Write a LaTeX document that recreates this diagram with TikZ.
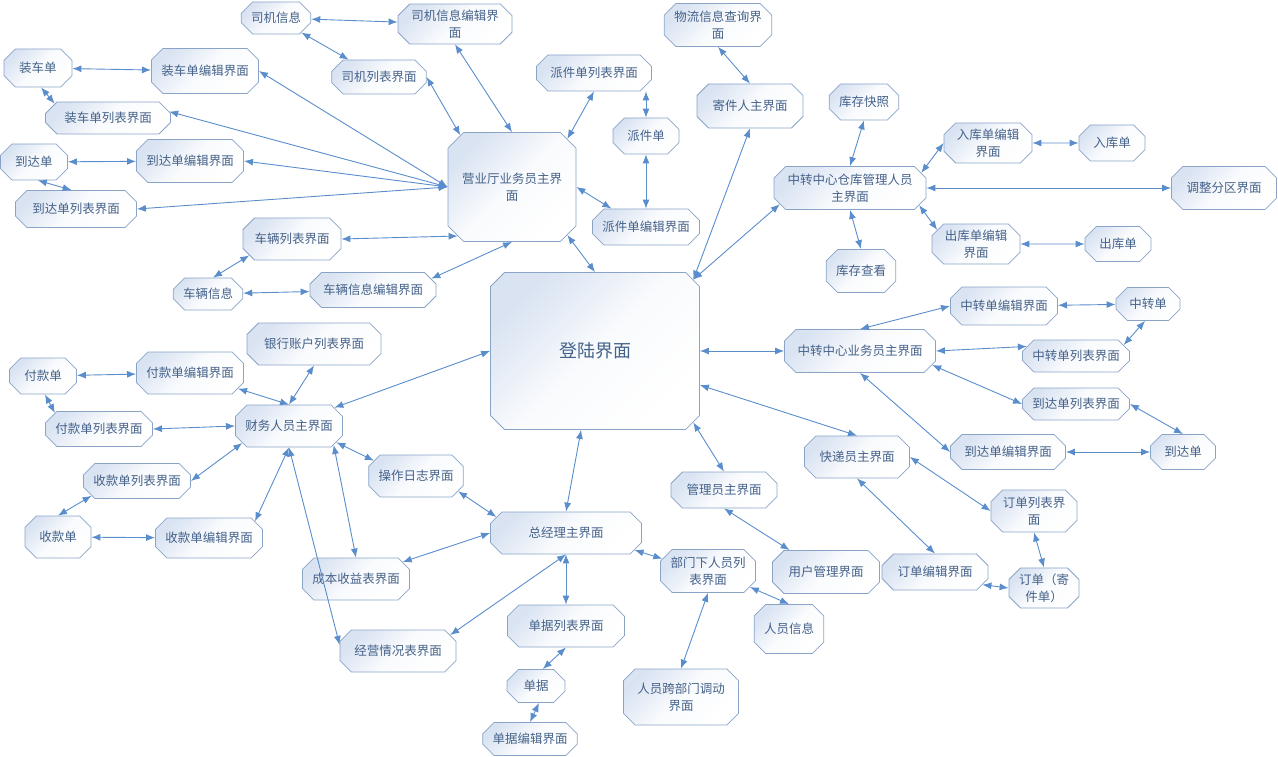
\documentclass[tikz,border=0pt]{standalone}
\usepackage{fontspec}
\setmainfont{Noto Sans CJK SC}
\usetikzlibrary{shapes.misc,arrows.meta,calc}
\definecolor{bord}{HTML}{8AA4C8}
\definecolor{fillc}{HTML}{D9E3F2}
\definecolor{txt}{HTML}{45628A}
\definecolor{arr}{HTML}{5A8DCB}
\begin{document}
\begin{tikzpicture}[x=1pt,y=-1pt,
  box/.style={chamfered rectangle, chamfered rectangle xsep=8pt, draw=bord, line width=0.8pt,
    top color=fillc, bottom color=white, middle color=white!85!fillc, shading angle=45, text=txt, inner sep=2pt,
    align=center, font=\fontsize{12.5}{17}\selectfont},
  wh/.style 2 args={minimum width=#1pt, minimum height=#2pt},
  link/.style={draw=arr, line width=0.9pt, {Latex[length=9pt,width=7pt]}-{Latex[length=9pt,width=7pt]}}]
\useasboundingbox (0,0) rectangle (1278,757);
% ---- top left cluster
\node[box,wh={67}{32}] (dri) at (276,18) {司机信息};
\node[box,wh={114}{38}] (drie) at (455,24) {司机信息编辑界\\面};
\node[box,wh={92}{34}] (drl) at (379,77) {司机列表界面};
\node[box,wh={68}{38}] (zc) at (38,68) {装车单};
\node[box,wh={106}{45}] (zce) at (205,71) {装车单编辑界面};
\node[box,wh={125}{32}] (zcl) at (108,118) {装车单列表界面};
\node[box,wh={67}{36}] (dd1) at (34,162) {到达单};
\node[box,wh={106}{43}] (dde1) at (190,161) {到达单编辑界面};
\node[box,wh={121}{37}] (ddl1) at (76,209) {到达单列表界面};
\node[box,wh={98}{42}] (cll) at (292,239) {车辆列表界面};
\node[box,wh={67}{32}] (cl) at (208,294) {车辆信息};
\node[box,wh={126}{35}] (cle) at (373,290) {车辆信息编辑界面};
\node[box,wh={123}{109},chamfered rectangle xsep=12pt] (yyt) at (512,187) {营业厅业务员主界\\面};
\node[box,wh={115}{36}] (pjl) at (594,73) {派件单列表界面};
\node[box,wh={66}{36}] (pj) at (646,136) {派件单};
\node[box,wh={106}{36}] (pje) at (646,227) {派件单编辑界面};
% ---- top right
\node[box,wh={106}{43}] (wl) at (718,25) {物流信息查询界\\面};
\node[box,wh={106}{44}] (jjr) at (750,106) {寄件人主界面};
\node[box,wh={66}{36}] (kckz) at (864,102) {库存快照};
\node[box,wh={152}{43}] (zzck) at (850,188) {中转中心仓库管理人员\\主界面};
\node[box,wh={88}{36}] (rke) at (988,143) {入库单编辑\\界面};
\node[box,wh={66}{36}] (rk) at (1112,143) {入库单};
\node[box,wh={105}{43}] (tz) at (1224,188) {调整分区界面};
\node[box,wh={88}{37}] (cke) at (976,244) {出库单编辑\\界面};
\node[box,wh={66}{35}] (ck) at (1118,244) {出库单};
\node[box,wh={66}{43}] (kcck) at (861,271) {库存查看};
% ---- centre
\node[box,wh={209}{157},chamfered rectangle xsep=20pt,font=\fontsize{18}{22}\selectfont] (dl) at (595,351) {登陆界面};
% ---- right
\node[box,wh={105}{38}] (zze) at (1004,306) {中转单编辑界面};
\node[box,wh={64}{33}] (zz) at (1148,304) {中转单};
\node[box,wh={151}{43}] (zzyw) at (860,351) {中转中心业务员主界面};
\node[box,wh={106}{32}] (zzl) at (1076,356) {中转单列表界面};
\node[box,wh={106}{32}] (ddl2) at (1076,404) {到达单列表界面};
\node[box,wh={115}{35}] (dde2) at (1008,452) {到达单编辑界面};
\node[box,wh={65}{35}] (dd2) at (1183,452) {到达单};
\node[box,wh={105}{42}] (kdy) at (857,457) {快递员主界面};
\node[box,wh={86}{42}] (ddlb) at (1034,511) {订单列表界\\面};
\node[box,wh={106}{36}] (ddbj) at (935,572) {订单编辑界面};
\node[box,wh={66}{38}] (ddjj) at (1044,588) {订单（寄\\件单）};
% ---- bottom centre
\node[box,wh={106}{36}] (gly) at (724,490) {管理员主界面};
\node[box,wh={107}{43}] (yhgl) at (826,572) {用户管理界面};
\node[box,wh={66}{49}] (ryxx) at (789,629) {人员信息};
\node[box,wh={94}{43}] (bmxry) at (708,571) {部门下人员列\\表界面};
\node[box,wh={115}{56}] (rykbm) at (681,697) {人员跨部门调动\\界面};
\node[box,wh={151}{42}] (zjl) at (566,533) {总经理主界面};
\node[box,wh={117}{42}] (djl) at (566,626) {单据列表界面};
\node[box,wh={58}{33}] (dj) at (536,686) {单据};
\node[box,wh={93}{33}] (djbj) at (530,739) {单据编辑界面};
\node[box,wh={106}{42}] (cbsy) at (356,579) {成本收益表界面};
\node[box,wh={116}{42}] (jyqk) at (398,651) {经营情况表界面};
\node[box,wh={93}{42}] (czrz) at (416,476) {操作日志界面};
% ---- finance
\node[box,wh={106}{42}] (cw) at (289,426) {财务人员主界面};
\node[box,wh={134}{42}] (yhzh) at (314,344) {银行账户列表界面};
\node[box,wh={67}{36}] (fk) at (43,376) {付款单};
\node[box,wh={106}{42}] (fke) at (190,373) {付款单编辑界面};
\node[box,wh={106}{35}] (fkl) at (99,429) {付款单列表界面};
\node[box,wh={106}{35}] (skl) at (137,481) {收款单列表界面};
\node[box,wh={66}{42}] (sk) at (58,537) {收款单};
\node[box,wh={106}{40}] (ske) at (209,538) {收款单编辑界面};
% ================= connectors
\draw[link] (dri) -- (drie);
\draw[link] (dri) -- (drl);
\draw[link] (drl.east) -- (yyt.135);
\draw[link] (drie.south) -- (yyt.north);
\draw[link] (zc) -- (zce);
\draw[link] (zc.-81) -- (zcl.165);
\draw[link] (zce.east) -- (yyt.west);
\draw[link] (zcl.6) -- (yyt.west);
\draw[link] (dd1) -- (dde1);
\draw[link] (dd1.-78) -- (ddl1.103);
\draw[link] (dde1.east) -- (yyt.west);
\draw[link] (ddl1.east) -- (yyt.west);
\draw[link] (cll.east) -- (yyt.222);
\draw[link] (cl.73) -- (cll.201);
\draw[link] (cl) -- (cle);
\draw[link] (cle.11) -- (yyt.south);
\draw[link] (yyt.41) -- (pjl.south);
\draw[link] (pj.north |- pjl.south) -- (pj.north);
\draw[link] (pj.south) -- (pje.north);
\draw[link] (yyt.east) -- (pje.152);
\draw[link] (yyt.-41) -- (dl.north);
\draw[link] (wl.south) -- (jjr.north);
\draw[link] (jjr.south) -- (dl.36);
\draw[link] (zzck.193) -- (dl.36);
\draw[link] (kckz.south) -- (zzck.north);
\draw[link] (zzck.south) -- (kcck.north);
\draw[link] (zzck.12) -- (rke.west);
\draw[link] (rke) -- (rk);
\draw[link] (zzck.east) -- (tz.west);
\draw[link] (zzck.-14) -- (cke.160);
\draw[link] (cke) -- (ck);
\draw[link] (dl.east) -- (zzyw.west);
\draw[link] (zzyw.north) -- (zze.west);
\draw[link] (zze) -- (zz);
\draw[link] (zz.-100) -- (zzl.13);
\draw[link] (zzyw.east) -- (zzl.169);
\draw[link] (zzyw.-11) -- (ddl2.west);
\draw[link] (ddl2.east) -- (dd2.north);
\draw[link] (zzyw.south) -- (dde2.west);
\draw[link] (dde2) -- (dd2);
\draw[link] (dl.-18) -- (kdy.north);
\draw[link] (kdy.east) -- (ddlb.west);
\draw[link] (kdy.south) -- (ddbj.north);
\draw[link] (ddlb.south) -- (ddjj.north);
\draw[link] (ddbj.-15) -- (ddjj.west);
\draw[link] (dl.-36) -- (gly.north);
\draw[link] (gly.south) -- (yhgl.149);
\draw[link] (dl.-100) -- (zjl.north);
\draw[link] (zjl.167) -- (czrz.-20);
\draw[link] (zjl.west) -- (cbsy.20);
\draw[link] (zjl.south) -- (jyqk.17);
\draw[link] (zjl.south) -- (djl.north);
\draw[link] (djl.south) -- (dj.68);
\draw[link] (dj.-80) -- (djbj.north);
\draw[link] (zjl.-14) -- (bmxry.165);
\draw[link] (bmxry.-21) -- (ryxx.north);
\draw[link] (bmxry.south) -- (rykbm.north);
\draw[link] (dl.west) -- (cw.22);
\draw[link] (yhzh.south) -- (cw.north);
\draw[link] (fke.-18) -- (cw.north);
\draw[link] (fk) -- (fke);
\draw[link] (fk.-84) -- (fkl.160);
\draw[link] (fkl.east) -- (cw.west);
\draw[link] (cw.200) -- (skl.east);
\draw[link] (skl.198) -- (sk.north);
\draw[link] (sk) -- (ske);
\draw[link] (cw.south) -- (ske.20);
\draw[link] (cw.-19) -- (czrz.160);
\draw[link] (cw.-23) -- (cbsy.north);
\draw[link] (cw.south) -- (jyqk.174);
\end{tikzpicture}
\end{document}
